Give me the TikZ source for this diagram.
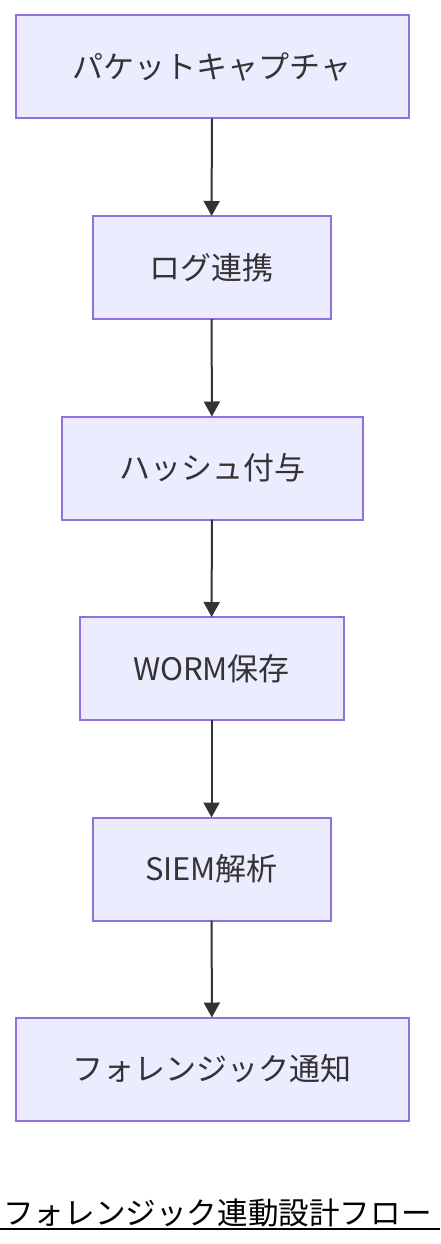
\documentclass[tikz,border=0pt]{standalone}
\usepackage{fontspec}
\setmainfont{Noto Sans CJK JP}
\usetikzlibrary{arrows.meta}
\definecolor{boxfill}{HTML}{ECECFF}
\definecolor{boxline}{HTML}{9370DB}
\definecolor{inkgray}{HTML}{333333}

\begin{document}
\begin{tikzpicture}[x=1pt,y=-1pt]


 \tikzset{
    box/.style={
      rectangle,
      minimum height=103pt,
      inner sep=0pt,
      outer sep=0pt,
      fill=boxfill,
    draw=boxline,
      line width=2pt,
      text=inkgray,
      font=\fontsize{31}{37}\selectfont
    },
    link/.style={
      draw=inkgray,
      line width=2pt,
      -{Triangle[width=16pt,length=15pt]}
    }
  }

\useasboundingbox (0,0) rectangle (440,1244);

\node[box, minimum width=393pt] (capture) at (212,67) {パケットキャプチャ};
\node[box, minimum width=238pt] (logs) at (211.5,267.5) {ログ連携};
\node[box, minimum width=301pt] (hash) at (212,468) {ハッシュ付与};
\node[box, minimum width=264pt] (worm) at (211.5,668.5) {WORM保存};
\node[box, minimum width=238pt] (siem) at (211.5,869) {SIEM解析};
\node[box, minimum width=393pt] (notify) at (212,1069) {フォレンジック通知};

\foreach \a/\b in {capture/logs, logs/hash, hash/worm, worm/siem, siem/notify}
    \draw[link] (\a) -- (\b);

\node[anchor=base west, inner sep=0pt, font=\fontsize{30.6}{36}\selectfont] (title) at (3,1224) {フォレンジック連動設計フロー};
\coordinate (ulleft) at (0,1229);
\coordinate (ulright) at (440,1229);
\draw[line width=2pt] (ulleft) -- (ulright);
\end{tikzpicture}
\end{document}
